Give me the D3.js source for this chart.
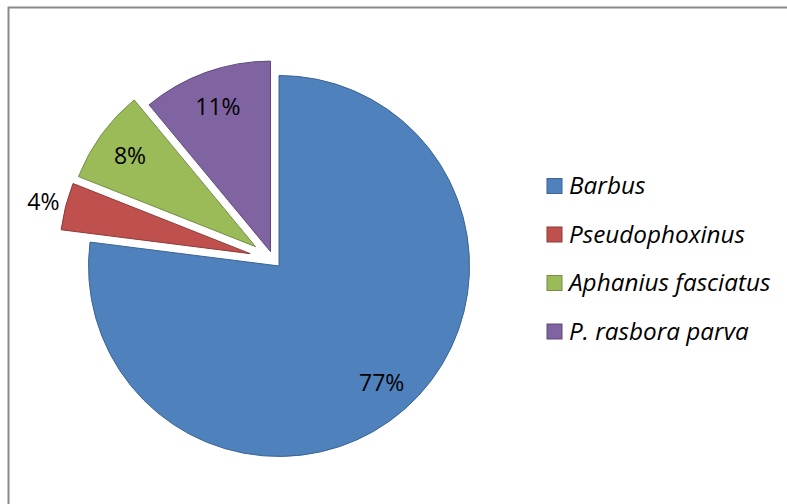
<!DOCTYPE html>
<html>
<head>
<meta charset="utf-8">
<script src="https://cdn.jsdelivr.net/npm/d3@7"></script>
<style>
  html, body { margin: 0; padding: 0; background: #fff; }
  svg { display: block; }
</style>
</head>
<body>
<svg id="chart" width="787" height="504"></svg>
<script>
// Species composition of the catch
const species = ["Barbus", "Pseudophoxinus", "Aphanius fasciatus", "P. rasbora parva"];
const shares = [77, 4, 8, 11];
const fills = ["#4F81BD", "#C0504D", "#9BBB59", "#8064A2"];
const strokes = ["#3A6494", "#8E3B39", "#748D43", "#5F4A7A"];
const explodeBy = [8.5, 24, 22, 8.5];

const svg = d3.select("#chart");
const W = 787, H = 504;
const FONT = "'Open Sans', Lato, 'Liberation Sans', sans-serif";

// chart-area frame (right and bottom edges run off the page)
svg.append("rect")
  .attr("x", 8.5).attr("y", 7.5)
  .attr("width", W + 20).attr("height", H + 20)
  .attr("fill", "#fff")
  .attr("stroke", "#8a8a8a")
  .attr("stroke-width", 2);

const cx = 273.4, cy = 259.6, R = 190.5;

const pie = d3.pie().sort(null).value(d => d.v).startAngle(0).endAngle(2 * Math.PI);
const arcs = pie(species.map((s, i) => ({ name: s, v: shares[i], i })));
const arc = d3.arc().innerRadius(0).outerRadius(R);

const g = svg.append("g").attr("transform", `translate(${cx},${cy})`);

const off = a => {
  const mid = (a.startAngle + a.endAngle) / 2;
  const d = explodeBy[a.data.i];
  return [d * Math.sin(mid), -d * Math.cos(mid)];
};

const slice = g.selectAll("g.slice").data(arcs).join("g")
  .attr("class", "slice")
  .attr("transform", d => { const [x, y] = off(d); return `translate(${x},${y})`; });

slice.append("path")
  .attr("d", arc)
  .attr("fill", d => fills[d.data.i])
  .attr("stroke", d => strokes[d.data.i])
  .attr("stroke-width", 1)
  .attr("stroke-linejoin", "round");

// percentage labels: inside for larger slices, just outside for tiny ones
slice.append("text")
  .attr("transform", d => {
    const mid = (d.startAngle + d.endAngle) / 2;
    const r = d.data.v < 5 ? R + 23 : R * 0.815;
    return `translate(${r * Math.sin(mid)},${-r * Math.cos(mid)})`;
  })
  .attr("text-anchor", "middle")
  .attr("dominant-baseline", "central")
  .attr("font-family", FONT)
  .attr("font-size", 23)
  .attr("fill", "#000")
  .text(d => d.data.v + "%");

// legend
const lg = svg.append("g").attr("transform", "translate(547,178.5)");
const item = lg.selectAll("g").data(species).join("g")
  .attr("transform", (d, i) => `translate(0,${i * 48.5})`);
item.append("rect")
  .attr("width", 15).attr("height", 15)
  .attr("fill", (d, i) => fills[i])
  .attr("stroke", (d, i) => strokes[i])
  .attr("stroke-width", 1);
item.append("text")
  .attr("x", 22).attr("y", 15.5)
  .attr("font-family", FONT)
  .attr("font-style", "italic")
  .attr("font-size", 24.3)
  .attr("fill", "#000")
  .text(d => d);
</script>
</body>
</html>
